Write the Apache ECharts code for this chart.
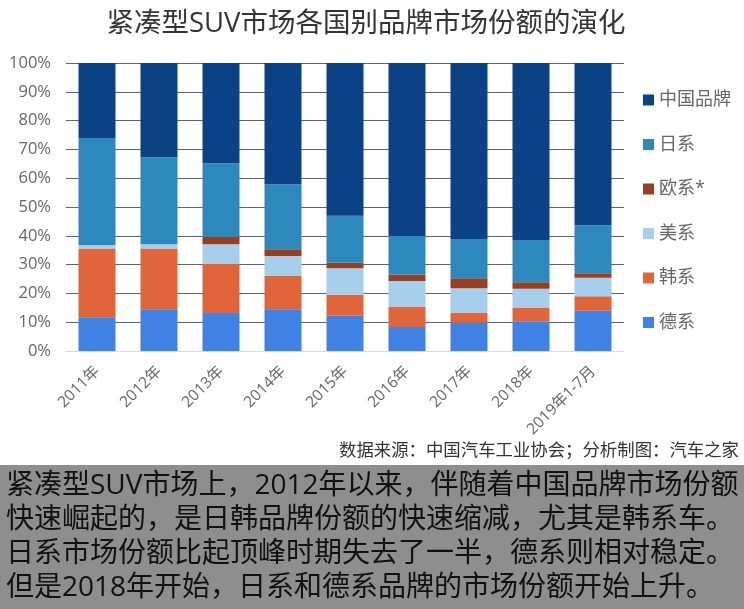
<!DOCTYPE html>
<html><head><meta charset="utf-8">
<style>html,body{margin:0;padding:0;background:#fff}#c{width:744px;height:609px}</style>
<script src="https://cdn.jsdelivr.net/npm/echarts@6/dist/echarts.min.js"></script></head>
<body><div id="c"></div>
<script>
const categories=['2011年','2012年','2013年','2014年','2015年','2016年','2017年','2018年','2019年1-7月'];
const german=[11.7,14.5,13.2,14.5,12.2,8.3,9.8,10.3,14.0];
const korean=[23.9,21.1,17.2,11.5,7.3,7.0,3.4,4.8,5.0];
const american=[1.2,1.5,6.7,7.0,9.2,9.0,8.6,6.5,6.4];
const european=[0,0,2.5,2.3,1.9,2.2,3.5,2.3,1.6];
const japanese=[37.2,30.2,25.6,22.6,16.4,13.4,13.6,14.6,16.7];
const chinese=[26.0,32.7,34.8,42.1,53.0,60.1,61.1,61.5,56.3];
const yTicks=['0%','10%','20%','30%','40%','50%','60%','70%','80%','90%','100%'];
const titleText='紧凑型SUV市场各国别品牌市场份额的演化';
const sourceText='数据来源：中国汽车工业协会；分析制图：汽车之家';
const noteLines=['紧凑型SUV市场上，2012年以来，伴随着中国品牌市场份额','快速崛起的，是日韩品牌份额的快速缩减，尤其是韩系车。','日系市场份额比起顶峰时期失去了一半，德系则相对稳定。','但是2018年开始，日系和德系品牌的市场份额开始上升。'];
const FONT='"Open Sans","Noto Sans CJK SC",sans-serif';
const seriesDefs=[['德系',german,'#3f82e3'],['韩系',korean,'#e0653a'],['美系',american,'#a5cfeb'],['欧系*',european,'#963f22'],['日系',japanese,'#2d88bd'],['中国品牌',chinese,'#0b4185']];
const chart=echarts.init(document.getElementById('c'),null,{renderer:'canvas'});
chart.setOption({
 animation:false,
 backgroundColor:'#fff',
 textStyle:{fontFamily:FONT},
 title:{text:titleText,left:366,top:10,padding:0,textAlign:'center',textStyle:{fontFamily:FONT,fontSize:27.5,fontWeight:'normal',color:'#333'}},
 grid:{left:66,right:120,top:63,bottom:258},
 legend:{orient:'vertical',left:643,top:91,padding:0,itemWidth:11,itemHeight:11,itemGap:26.5,icon:'rect',
  data:['中国品牌','日系','欧系*','美系','韩系','德系'],
  textStyle:{fontFamily:FONT,fontSize:18,color:'#666'}},
 xAxis:{type:'category',data:categories,axisTick:{show:false},
  axisLine:{lineStyle:{color:'#d9d9d9'}},
  axisLabel:{rotate:45,interval:0,fontSize:15.5,color:'#666',margin:18,fontFamily:FONT}},
 yAxis:{type:'value',min:0,max:100,interval:10,
  axisLine:{show:false},axisTick:{show:false},
  splitLine:{lineStyle:{color:'#5f5f8f',width:1}},
  axisLabel:{fontSize:16.5,color:'#666',margin:15,fontFamily:FONT,formatter:(v)=>yTicks[v/10]}},
 series:seriesDefs.map(([name,data,color])=>({name,type:'bar',stack:'a',data,barWidth:37,itemStyle:{color}})),
 graphic:[
  {type:'text',right:5,top:442,style:{text:sourceText,font:'17.4px '+FONT,fill:'#333'}},
  {type:'rect',left:0,top:465,shape:{width:744,height:144},style:{fill:'#8e8e8e'}},
  ...noteLines.map((t,i)=>({type:'text',left:6,top:472+i*34,style:{text:t,font:'28px '+FONT,fill:'#111'}}))
 ]
});
</script></body></html>
